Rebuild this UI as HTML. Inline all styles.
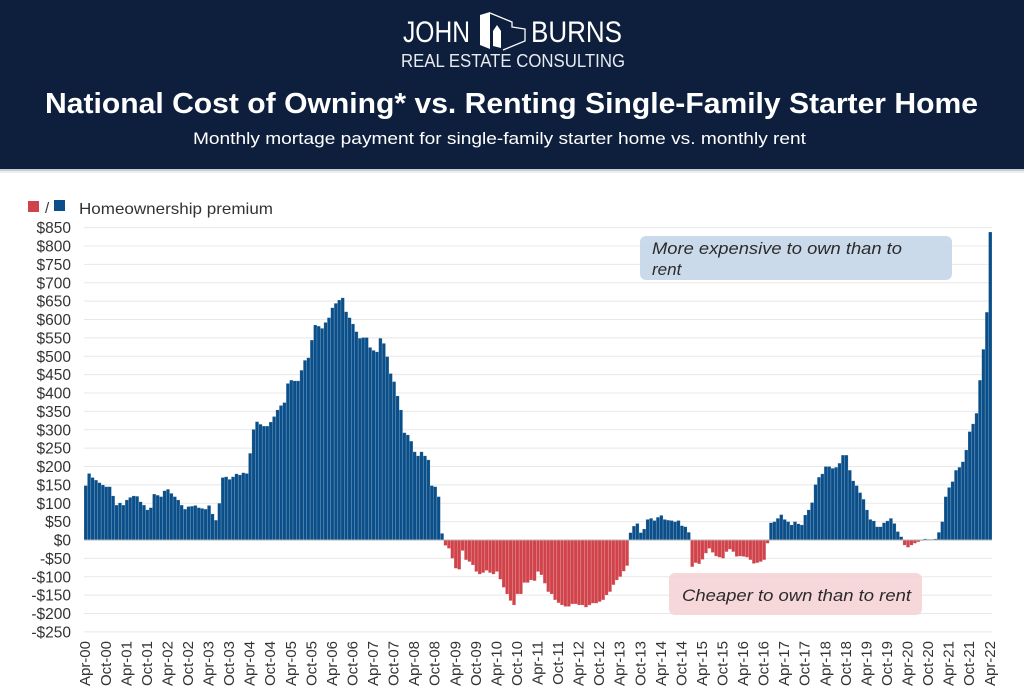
<!DOCTYPE html>
<html>
<head>
<meta charset="utf-8">
<style>
  html,body{margin:0;padding:0;background:#fff;}
  body{width:1024px;height:696px;overflow:hidden;}
  svg{display:block;font-family:"Liberation Sans",Arial,sans-serif;}
</style>
</head>
<body>
<svg width="1024" height="696" viewBox="0 0 1024 696" xmlns="http://www.w3.org/2000/svg">
  <!-- header -->
  <rect x="0" y="0" width="1024" height="169" fill="#0e1f3d"/>
  <rect x="0" y="169" width="1024" height="2" fill="#c9ccd2"/>
  <rect x="0" y="171" width="1024" height="2" fill="#eceef1"/>

  <!-- logo -->
  <text x="403" y="42" font-size="30" fill="#ffffff" textLength="67" lengthAdjust="spacingAndGlyphs">JOHN</text>
  <text x="531" y="42" font-size="30" fill="#ffffff" textLength="91" lengthAdjust="spacingAndGlyphs">BURNS</text>
  <polygon points="480,15 490,12 490,49 480,45" fill="#ffffff"/>
  <polyline points="490,13 512,22 512,27 525,29 525,41 503,50" fill="none" stroke="#ffffff" stroke-width="1.3"/>
  <polygon points="493,31 497,25 501,31 501,48 493,46" fill="#ffffff"/>
  <text x="401" y="67" font-size="18.5" fill="#e8ebf0" textLength="224" lengthAdjust="spacingAndGlyphs">REAL ESTATE CONSULTING</text>

  <!-- title -->
  <text x="45" y="113" font-size="29" font-weight="bold" fill="#ffffff" textLength="933" lengthAdjust="spacingAndGlyphs">National Cost of Owning* vs. Renting Single-Family Starter Home</text>
  <text x="193" y="144" font-size="17" fill="#ffffff" textLength="613" lengthAdjust="spacingAndGlyphs">Monthly mortage payment for single-family starter home vs. monthly rent</text>

  <!-- legend -->
  <rect x="28" y="201" width="11" height="11" fill="#d1434b"/>
  <text x="45" y="213" font-size="15" fill="#333">/</text>
  <rect x="54" y="200" width="11" height="11" fill="#0b4f8a"/>
  <text x="79" y="214" font-size="16" fill="#333" textLength="194" lengthAdjust="spacingAndGlyphs">Homeownership premium</text>

  <!-- gridlines -->
  <g stroke="#e8e8e8" stroke-width="1">
    <line x1="84" x2="992" y1="227.6" y2="227.6"/>
    <line x1="84" x2="992" y1="246.0" y2="246.0"/>
    <line x1="84" x2="992" y1="264.4" y2="264.4"/>
    <line x1="84" x2="992" y1="282.75" y2="282.75"/>
    <line x1="84" x2="992" y1="301.1" y2="301.1"/>
    <line x1="84" x2="992" y1="319.5" y2="319.5"/>
    <line x1="84" x2="992" y1="337.9" y2="337.9"/>
    <line x1="84" x2="992" y1="356.25" y2="356.25"/>
    <line x1="84" x2="992" y1="374.6" y2="374.6"/>
    <line x1="84" x2="992" y1="393.0" y2="393.0"/>
    <line x1="84" x2="992" y1="411.4" y2="411.4"/>
    <line x1="84" x2="992" y1="429.75" y2="429.75"/>
    <line x1="84" x2="992" y1="448.1" y2="448.1"/>
    <line x1="84" x2="992" y1="466.5" y2="466.5"/>
    <line x1="84" x2="992" y1="484.9" y2="484.9"/>
    <line x1="84" x2="992" y1="503.25" y2="503.25"/>
    <line x1="84" x2="992" y1="521.6" y2="521.6"/>
    <line x1="84" x2="992" y1="558.4" y2="558.4"/>
    <line x1="84" x2="992" y1="576.75" y2="576.75"/>
    <line x1="84" x2="992" y1="595.1" y2="595.1"/>
    <line x1="84" x2="992" y1="613.5" y2="613.5"/>
    <line x1="84" x2="992" y1="631.9" y2="631.9"/>
  </g>

  <!-- y labels -->
  <g font-size="15.5" fill="#333" text-anchor="end">
    <text x="71" y="233.1">$850</text>
    <text x="71" y="251.5">$800</text>
    <text x="71" y="269.9">$750</text>
    <text x="71" y="288.25">$700</text>
    <text x="71" y="306.6">$650</text>
    <text x="71" y="325.0">$600</text>
    <text x="71" y="343.4">$550</text>
    <text x="71" y="361.75">$500</text>
    <text x="71" y="380.1">$450</text>
    <text x="71" y="398.5">$400</text>
    <text x="71" y="416.9">$350</text>
    <text x="71" y="435.25">$300</text>
    <text x="71" y="453.6">$250</text>
    <text x="71" y="472.0">$200</text>
    <text x="71" y="490.4">$150</text>
    <text x="71" y="508.75">$100</text>
    <text x="71" y="527.1">$50</text>
    <text x="71" y="545.5">$0</text>
    <text x="71" y="563.9">-$50</text>
    <text x="71" y="582.25">-$100</text>
    <text x="71" y="600.6">-$150</text>
    <text x="71" y="619.0">-$200</text>
    <text x="71" y="637.4">-$250</text>
  </g>

  <!-- annotation boxes -->
  <rect x="640" y="236" width="312" height="44" rx="6" fill="#c5d6e8" fill-opacity="0.9"/>
  <text x="652" y="254" font-size="17" font-style="italic" fill="#2b2b2b" textLength="250" lengthAdjust="spacingAndGlyphs">More expensive to own than to</text>
  <text x="652" y="275" font-size="17" font-style="italic" fill="#2b2b2b">rent</text>

  <rect x="669" y="573" width="253" height="42" rx="6" fill="#f5d3d6" fill-opacity="0.9"/>
  <text x="682" y="601" font-size="17" font-style="italic" fill="#2b2b2b" textLength="229" lengthAdjust="spacingAndGlyphs">Cheaper to own than to rent</text>

  <!-- bars -->
  <g transform="translate(84,540) scale(3.4264,-0.3675)">
    <g fill="#0b4f8a" stroke="#ffffff" stroke-opacity="0.3" stroke-width="0.5" vector-effect="non-scaling-stroke">
      <rect x="0" width="1" height="148" vector-effect="non-scaling-stroke"/>
      <rect x="1" width="1" height="181" vector-effect="non-scaling-stroke"/>
      <rect x="2" width="1" height="170" vector-effect="non-scaling-stroke"/>
      <rect x="3" width="1" height="163" vector-effect="non-scaling-stroke"/>
      <rect x="4" width="1" height="156" vector-effect="non-scaling-stroke"/>
      <rect x="5" width="1" height="150" vector-effect="non-scaling-stroke"/>
      <rect x="6" width="1" height="145" vector-effect="non-scaling-stroke"/>
      <rect x="7" width="1" height="145" vector-effect="non-scaling-stroke"/>
      <rect x="8" width="1" height="120" vector-effect="non-scaling-stroke"/>
      <rect x="9" width="1" height="95" vector-effect="non-scaling-stroke"/>
      <rect x="10" width="1" height="101" vector-effect="non-scaling-stroke"/>
      <rect x="11" width="1" height="95" vector-effect="non-scaling-stroke"/>
      <rect x="12" width="1" height="109" vector-effect="non-scaling-stroke"/>
      <rect x="13" width="1" height="116" vector-effect="non-scaling-stroke"/>
      <rect x="14" width="1" height="120" vector-effect="non-scaling-stroke"/>
      <rect x="15" width="1" height="119" vector-effect="non-scaling-stroke"/>
      <rect x="16" width="1" height="104" vector-effect="non-scaling-stroke"/>
      <rect x="17" width="1" height="95" vector-effect="non-scaling-stroke"/>
      <rect x="18" width="1" height="82" vector-effect="non-scaling-stroke"/>
      <rect x="19" width="1" height="88" vector-effect="non-scaling-stroke"/>
      <rect x="20" width="1" height="125" vector-effect="non-scaling-stroke"/>
      <rect x="21" width="1" height="122" vector-effect="non-scaling-stroke"/>
      <rect x="22" width="1" height="118" vector-effect="non-scaling-stroke"/>
      <rect x="23" width="1" height="134" vector-effect="non-scaling-stroke"/>
      <rect x="24" width="1" height="138" vector-effect="non-scaling-stroke"/>
      <rect x="25" width="1" height="127" vector-effect="non-scaling-stroke"/>
      <rect x="26" width="1" height="118" vector-effect="non-scaling-stroke"/>
      <rect x="27" width="1" height="109" vector-effect="non-scaling-stroke"/>
      <rect x="28" width="1" height="95" vector-effect="non-scaling-stroke"/>
      <rect x="29" width="1" height="84" vector-effect="non-scaling-stroke"/>
      <rect x="30" width="1" height="91" vector-effect="non-scaling-stroke"/>
      <rect x="31" width="1" height="92" vector-effect="non-scaling-stroke"/>
      <rect x="32" width="1" height="94" vector-effect="non-scaling-stroke"/>
      <rect x="33" width="1" height="88" vector-effect="non-scaling-stroke"/>
      <rect x="34" width="1" height="86" vector-effect="non-scaling-stroke"/>
      <rect x="35" width="1" height="84" vector-effect="non-scaling-stroke"/>
      <rect x="36" width="1" height="94" vector-effect="non-scaling-stroke"/>
      <rect x="37" width="1" height="71" vector-effect="non-scaling-stroke"/>
      <rect x="38" width="1" height="54" vector-effect="non-scaling-stroke"/>
      <rect x="39" width="1" height="100" vector-effect="non-scaling-stroke"/>
      <rect x="40" width="1" height="170" vector-effect="non-scaling-stroke"/>
      <rect x="41" width="1" height="172" vector-effect="non-scaling-stroke"/>
      <rect x="42" width="1" height="165" vector-effect="non-scaling-stroke"/>
      <rect x="43" width="1" height="172" vector-effect="non-scaling-stroke"/>
      <rect x="44" width="1" height="180" vector-effect="non-scaling-stroke"/>
      <rect x="45" width="1" height="177" vector-effect="non-scaling-stroke"/>
      <rect x="46" width="1" height="183" vector-effect="non-scaling-stroke"/>
      <rect x="47" width="1" height="181" vector-effect="non-scaling-stroke"/>
      <rect x="48" width="1" height="236" vector-effect="non-scaling-stroke"/>
      <rect x="49" width="1" height="301" vector-effect="non-scaling-stroke"/>
      <rect x="50" width="1" height="322" vector-effect="non-scaling-stroke"/>
      <rect x="51" width="1" height="315" vector-effect="non-scaling-stroke"/>
      <rect x="52" width="1" height="310" vector-effect="non-scaling-stroke"/>
      <rect x="53" width="1" height="310" vector-effect="non-scaling-stroke"/>
      <rect x="54" width="1" height="321" vector-effect="non-scaling-stroke"/>
      <rect x="55" width="1" height="336" vector-effect="non-scaling-stroke"/>
      <rect x="56" width="1" height="354" vector-effect="non-scaling-stroke"/>
      <rect x="57" width="1" height="366" vector-effect="non-scaling-stroke"/>
      <rect x="58" width="1" height="374" vector-effect="non-scaling-stroke"/>
      <rect x="59" width="1" height="426" vector-effect="non-scaling-stroke"/>
      <rect x="60" width="1" height="435" vector-effect="non-scaling-stroke"/>
      <rect x="61" width="1" height="433" vector-effect="non-scaling-stroke"/>
      <rect x="62" width="1" height="433" vector-effect="non-scaling-stroke"/>
      <rect x="63" width="1" height="462" vector-effect="non-scaling-stroke"/>
      <rect x="64" width="1" height="489" vector-effect="non-scaling-stroke"/>
      <rect x="65" width="1" height="496" vector-effect="non-scaling-stroke"/>
      <rect x="66" width="1" height="544" vector-effect="non-scaling-stroke"/>
      <rect x="67" width="1" height="585" vector-effect="non-scaling-stroke"/>
      <rect x="68" width="1" height="582" vector-effect="non-scaling-stroke"/>
      <rect x="69" width="1" height="576" vector-effect="non-scaling-stroke"/>
      <rect x="70" width="1" height="592" vector-effect="non-scaling-stroke"/>
      <rect x="71" width="1" height="605" vector-effect="non-scaling-stroke"/>
      <rect x="72" width="1" height="632" vector-effect="non-scaling-stroke"/>
      <rect x="73" width="1" height="644" vector-effect="non-scaling-stroke"/>
      <rect x="74" width="1" height="653" vector-effect="non-scaling-stroke"/>
      <rect x="75" width="1" height="659" vector-effect="non-scaling-stroke"/>
      <rect x="76" width="1" height="621" vector-effect="non-scaling-stroke"/>
      <rect x="77" width="1" height="605" vector-effect="non-scaling-stroke"/>
      <rect x="78" width="1" height="588" vector-effect="non-scaling-stroke"/>
      <rect x="79" width="1" height="567" vector-effect="non-scaling-stroke"/>
      <rect x="80" width="1" height="549" vector-effect="non-scaling-stroke"/>
      <rect x="81" width="1" height="551" vector-effect="non-scaling-stroke"/>
      <rect x="82" width="1" height="551" vector-effect="non-scaling-stroke"/>
      <rect x="83" width="1" height="524" vector-effect="non-scaling-stroke"/>
      <rect x="84" width="1" height="516" vector-effect="non-scaling-stroke"/>
      <rect x="85" width="1" height="512" vector-effect="non-scaling-stroke"/>
      <rect x="86" width="1" height="549" vector-effect="non-scaling-stroke"/>
      <rect x="87" width="1" height="535" vector-effect="non-scaling-stroke"/>
      <rect x="88" width="1" height="499" vector-effect="non-scaling-stroke"/>
      <rect x="89" width="1" height="453" vector-effect="non-scaling-stroke"/>
      <rect x="90" width="1" height="431" vector-effect="non-scaling-stroke"/>
      <rect x="91" width="1" height="392" vector-effect="non-scaling-stroke"/>
      <rect x="92" width="1" height="354" vector-effect="non-scaling-stroke"/>
      <rect x="93" width="1" height="292" vector-effect="non-scaling-stroke"/>
      <rect x="94" width="1" height="286" vector-effect="non-scaling-stroke"/>
      <rect x="95" width="1" height="269" vector-effect="non-scaling-stroke"/>
      <rect x="96" width="1" height="240" vector-effect="non-scaling-stroke"/>
      <rect x="97" width="1" height="229" vector-effect="non-scaling-stroke"/>
      <rect x="98" width="1" height="240" vector-effect="non-scaling-stroke"/>
      <rect x="99" width="1" height="229" vector-effect="non-scaling-stroke"/>
      <rect x="100" width="1" height="218" vector-effect="non-scaling-stroke"/>
      <rect x="101" width="1" height="148" vector-effect="non-scaling-stroke"/>
      <rect x="102" width="1" height="145" vector-effect="non-scaling-stroke"/>
      <rect x="103" width="1" height="118" vector-effect="non-scaling-stroke"/>
      <rect x="104" width="1" height="18" vector-effect="non-scaling-stroke"/>
      <rect x="159" width="1" height="20" vector-effect="non-scaling-stroke"/>
      <rect x="160" width="1" height="38" vector-effect="non-scaling-stroke"/>
      <rect x="161" width="1" height="45" vector-effect="non-scaling-stroke"/>
      <rect x="162" width="1" height="20" vector-effect="non-scaling-stroke"/>
      <rect x="163" width="1" height="30" vector-effect="non-scaling-stroke"/>
      <rect x="164" width="1" height="56" vector-effect="non-scaling-stroke"/>
      <rect x="165" width="1" height="59" vector-effect="non-scaling-stroke"/>
      <rect x="166" width="1" height="53" vector-effect="non-scaling-stroke"/>
      <rect x="167" width="1" height="62" vector-effect="non-scaling-stroke"/>
      <rect x="168" width="1" height="67" vector-effect="non-scaling-stroke"/>
      <rect x="169" width="1" height="56" vector-effect="non-scaling-stroke"/>
      <rect x="170" width="1" height="54" vector-effect="non-scaling-stroke"/>
      <rect x="171" width="1" height="53" vector-effect="non-scaling-stroke"/>
      <rect x="172" width="1" height="50" vector-effect="non-scaling-stroke"/>
      <rect x="173" width="1" height="53" vector-effect="non-scaling-stroke"/>
      <rect x="174" width="1" height="39" vector-effect="non-scaling-stroke"/>
      <rect x="175" width="1" height="36" vector-effect="non-scaling-stroke"/>
      <rect x="176" width="1" height="21" vector-effect="non-scaling-stroke"/>
      <rect x="200" width="1" height="47" vector-effect="non-scaling-stroke"/>
      <rect x="201" width="1" height="50" vector-effect="non-scaling-stroke"/>
      <rect x="202" width="1" height="59" vector-effect="non-scaling-stroke"/>
      <rect x="203" width="1" height="69" vector-effect="non-scaling-stroke"/>
      <rect x="204" width="1" height="56" vector-effect="non-scaling-stroke"/>
      <rect x="205" width="1" height="50" vector-effect="non-scaling-stroke"/>
      <rect x="206" width="1" height="41" vector-effect="non-scaling-stroke"/>
      <rect x="207" width="1" height="50" vector-effect="non-scaling-stroke"/>
      <rect x="208" width="1" height="44" vector-effect="non-scaling-stroke"/>
      <rect x="209" width="1" height="41" vector-effect="non-scaling-stroke"/>
      <rect x="210" width="1" height="68" vector-effect="non-scaling-stroke"/>
      <rect x="211" width="1" height="82" vector-effect="non-scaling-stroke"/>
      <rect x="212" width="1" height="102" vector-effect="non-scaling-stroke"/>
      <rect x="213" width="1" height="151" vector-effect="non-scaling-stroke"/>
      <rect x="214" width="1" height="171" vector-effect="non-scaling-stroke"/>
      <rect x="215" width="1" height="180" vector-effect="non-scaling-stroke"/>
      <rect x="216" width="1" height="200" vector-effect="non-scaling-stroke"/>
      <rect x="217" width="1" height="200" vector-effect="non-scaling-stroke"/>
      <rect x="218" width="1" height="195" vector-effect="non-scaling-stroke"/>
      <rect x="219" width="1" height="198" vector-effect="non-scaling-stroke"/>
      <rect x="220" width="1" height="209" vector-effect="non-scaling-stroke"/>
      <rect x="221" width="1" height="231" vector-effect="non-scaling-stroke"/>
      <rect x="222" width="1" height="231" vector-effect="non-scaling-stroke"/>
      <rect x="223" width="1" height="190" vector-effect="non-scaling-stroke"/>
      <rect x="224" width="1" height="161" vector-effect="non-scaling-stroke"/>
      <rect x="225" width="1" height="148" vector-effect="non-scaling-stroke"/>
      <rect x="226" width="1" height="129" vector-effect="non-scaling-stroke"/>
      <rect x="227" width="1" height="111" vector-effect="non-scaling-stroke"/>
      <rect x="228" width="1" height="82" vector-effect="non-scaling-stroke"/>
      <rect x="229" width="1" height="56" vector-effect="non-scaling-stroke"/>
      <rect x="230" width="1" height="52" vector-effect="non-scaling-stroke"/>
      <rect x="231" width="1" height="36" vector-effect="non-scaling-stroke"/>
      <rect x="232" width="1" height="36" vector-effect="non-scaling-stroke"/>
      <rect x="233" width="1" height="47" vector-effect="non-scaling-stroke"/>
      <rect x="234" width="1" height="52" vector-effect="non-scaling-stroke"/>
      <rect x="235" width="1" height="59" vector-effect="non-scaling-stroke"/>
      <rect x="236" width="1" height="45" vector-effect="non-scaling-stroke"/>
      <rect x="237" width="1" height="23" vector-effect="non-scaling-stroke"/>
      <rect x="238" width="1" height="9" vector-effect="non-scaling-stroke"/>
      <rect x="245" width="1" height="3" vector-effect="non-scaling-stroke"/>
      <rect x="246" width="1" height="2" vector-effect="non-scaling-stroke"/>
      <rect x="247" width="1" height="2" vector-effect="non-scaling-stroke"/>
      <rect x="248" width="1" height="3" vector-effect="non-scaling-stroke"/>
      <rect x="249" width="1" height="21" vector-effect="non-scaling-stroke"/>
      <rect x="250" width="1" height="50" vector-effect="non-scaling-stroke"/>
      <rect x="251" width="1" height="118" vector-effect="non-scaling-stroke"/>
      <rect x="252" width="1" height="143" vector-effect="non-scaling-stroke"/>
      <rect x="253" width="1" height="159" vector-effect="non-scaling-stroke"/>
      <rect x="254" width="1" height="190" vector-effect="non-scaling-stroke"/>
      <rect x="255" width="1" height="198" vector-effect="non-scaling-stroke"/>
      <rect x="256" width="1" height="213" vector-effect="non-scaling-stroke"/>
      <rect x="257" width="1" height="245" vector-effect="non-scaling-stroke"/>
      <rect x="258" width="1" height="295" vector-effect="non-scaling-stroke"/>
      <rect x="259" width="1" height="316" vector-effect="non-scaling-stroke"/>
      <rect x="260" width="1" height="345" vector-effect="non-scaling-stroke"/>
      <rect x="261" width="1" height="435" vector-effect="non-scaling-stroke"/>
      <rect x="262" width="1" height="519" vector-effect="non-scaling-stroke"/>
      <rect x="263" width="1" height="620" vector-effect="non-scaling-stroke"/>
      <rect x="264" width="1" height="838" vector-effect="non-scaling-stroke"/>
    </g>
    <g fill="#d1434b" stroke="#ffffff" stroke-opacity="0.3" stroke-width="0.5">
      <rect x="105" y="-15" width="1" height="15" vector-effect="non-scaling-stroke"/>
      <rect x="106" y="-23" width="1" height="23" vector-effect="non-scaling-stroke"/>
      <rect x="107" y="-50" width="1" height="50" vector-effect="non-scaling-stroke"/>
      <rect x="108" y="-77" width="1" height="77" vector-effect="non-scaling-stroke"/>
      <rect x="109" y="-80" width="1" height="80" vector-effect="non-scaling-stroke"/>
      <rect x="110" y="-29" width="1" height="29" vector-effect="non-scaling-stroke"/>
      <rect x="111" y="-54" width="1" height="54" vector-effect="non-scaling-stroke"/>
      <rect x="112" y="-59" width="1" height="59" vector-effect="non-scaling-stroke"/>
      <rect x="113" y="-68" width="1" height="68" vector-effect="non-scaling-stroke"/>
      <rect x="114" y="-86" width="1" height="86" vector-effect="non-scaling-stroke"/>
      <rect x="115" y="-93" width="1" height="93" vector-effect="non-scaling-stroke"/>
      <rect x="116" y="-89" width="1" height="89" vector-effect="non-scaling-stroke"/>
      <rect x="117" y="-83" width="1" height="83" vector-effect="non-scaling-stroke"/>
      <rect x="118" y="-89" width="1" height="89" vector-effect="non-scaling-stroke"/>
      <rect x="119" y="-93" width="1" height="93" vector-effect="non-scaling-stroke"/>
      <rect x="120" y="-86" width="1" height="86" vector-effect="non-scaling-stroke"/>
      <rect x="121" y="-107" width="1" height="107" vector-effect="non-scaling-stroke"/>
      <rect x="122" y="-129" width="1" height="129" vector-effect="non-scaling-stroke"/>
      <rect x="123" y="-147" width="1" height="147" vector-effect="non-scaling-stroke"/>
      <rect x="124" y="-165" width="1" height="165" vector-effect="non-scaling-stroke"/>
      <rect x="125" y="-177" width="1" height="177" vector-effect="non-scaling-stroke"/>
      <rect x="126" y="-147" width="1" height="147" vector-effect="non-scaling-stroke"/>
      <rect x="127" y="-147" width="1" height="147" vector-effect="non-scaling-stroke"/>
      <rect x="128" y="-116" width="1" height="116" vector-effect="non-scaling-stroke"/>
      <rect x="129" y="-116" width="1" height="116" vector-effect="non-scaling-stroke"/>
      <rect x="130" y="-109" width="1" height="109" vector-effect="non-scaling-stroke"/>
      <rect x="131" y="-111" width="1" height="111" vector-effect="non-scaling-stroke"/>
      <rect x="132" y="-86" width="1" height="86" vector-effect="non-scaling-stroke"/>
      <rect x="133" y="-95" width="1" height="95" vector-effect="non-scaling-stroke"/>
      <rect x="134" y="-118" width="1" height="118" vector-effect="non-scaling-stroke"/>
      <rect x="135" y="-141" width="1" height="141" vector-effect="non-scaling-stroke"/>
      <rect x="136" y="-147" width="1" height="147" vector-effect="non-scaling-stroke"/>
      <rect x="137" y="-163" width="1" height="163" vector-effect="non-scaling-stroke"/>
      <rect x="138" y="-171" width="1" height="171" vector-effect="non-scaling-stroke"/>
      <rect x="139" y="-177" width="1" height="177" vector-effect="non-scaling-stroke"/>
      <rect x="140" y="-181" width="1" height="181" vector-effect="non-scaling-stroke"/>
      <rect x="141" y="-181" width="1" height="181" vector-effect="non-scaling-stroke"/>
      <rect x="142" y="-174" width="1" height="174" vector-effect="non-scaling-stroke"/>
      <rect x="143" y="-174" width="1" height="174" vector-effect="non-scaling-stroke"/>
      <rect x="144" y="-177" width="1" height="177" vector-effect="non-scaling-stroke"/>
      <rect x="145" y="-177" width="1" height="177" vector-effect="non-scaling-stroke"/>
      <rect x="146" y="-183" width="1" height="183" vector-effect="non-scaling-stroke"/>
      <rect x="147" y="-177" width="1" height="177" vector-effect="non-scaling-stroke"/>
      <rect x="148" y="-172" width="1" height="172" vector-effect="non-scaling-stroke"/>
      <rect x="149" y="-172" width="1" height="172" vector-effect="non-scaling-stroke"/>
      <rect x="150" y="-168" width="1" height="168" vector-effect="non-scaling-stroke"/>
      <rect x="151" y="-163" width="1" height="163" vector-effect="non-scaling-stroke"/>
      <rect x="152" y="-150" width="1" height="150" vector-effect="non-scaling-stroke"/>
      <rect x="153" y="-141" width="1" height="141" vector-effect="non-scaling-stroke"/>
      <rect x="154" y="-122" width="1" height="122" vector-effect="non-scaling-stroke"/>
      <rect x="155" y="-109" width="1" height="109" vector-effect="non-scaling-stroke"/>
      <rect x="156" y="-100" width="1" height="100" vector-effect="non-scaling-stroke"/>
      <rect x="157" y="-85" width="1" height="85" vector-effect="non-scaling-stroke"/>
      <rect x="158" y="-70" width="1" height="70" vector-effect="non-scaling-stroke"/>
      <rect x="177" y="-73" width="1" height="73" vector-effect="non-scaling-stroke"/>
      <rect x="178" y="-62" width="1" height="62" vector-effect="non-scaling-stroke"/>
      <rect x="179" y="-65" width="1" height="65" vector-effect="non-scaling-stroke"/>
      <rect x="180" y="-53" width="1" height="53" vector-effect="non-scaling-stroke"/>
      <rect x="181" y="-36" width="1" height="36" vector-effect="non-scaling-stroke"/>
      <rect x="182" y="-23" width="1" height="23" vector-effect="non-scaling-stroke"/>
      <rect x="183" y="-34" width="1" height="34" vector-effect="non-scaling-stroke"/>
      <rect x="184" y="-44" width="1" height="44" vector-effect="non-scaling-stroke"/>
      <rect x="185" y="-47" width="1" height="47" vector-effect="non-scaling-stroke"/>
      <rect x="186" y="-50" width="1" height="50" vector-effect="non-scaling-stroke"/>
      <rect x="187" y="-32" width="1" height="32" vector-effect="non-scaling-stroke"/>
      <rect x="188" y="-25" width="1" height="25" vector-effect="non-scaling-stroke"/>
      <rect x="189" y="-32" width="1" height="32" vector-effect="non-scaling-stroke"/>
      <rect x="190" y="-45" width="1" height="45" vector-effect="non-scaling-stroke"/>
      <rect x="191" y="-44" width="1" height="44" vector-effect="non-scaling-stroke"/>
      <rect x="192" y="-45" width="1" height="45" vector-effect="non-scaling-stroke"/>
      <rect x="193" y="-47" width="1" height="47" vector-effect="non-scaling-stroke"/>
      <rect x="194" y="-54" width="1" height="54" vector-effect="non-scaling-stroke"/>
      <rect x="195" y="-64" width="1" height="64" vector-effect="non-scaling-stroke"/>
      <rect x="196" y="-62" width="1" height="62" vector-effect="non-scaling-stroke"/>
      <rect x="197" y="-59" width="1" height="59" vector-effect="non-scaling-stroke"/>
      <rect x="198" y="-54" width="1" height="54" vector-effect="non-scaling-stroke"/>
      <rect x="199" y="-9" width="1" height="9" vector-effect="non-scaling-stroke"/>
      <rect x="239" y="-14" width="1" height="14" vector-effect="non-scaling-stroke"/>
      <rect x="240" y="-20" width="1" height="20" vector-effect="non-scaling-stroke"/>
      <rect x="241" y="-14" width="1" height="14" vector-effect="non-scaling-stroke"/>
      <rect x="242" y="-9" width="1" height="9" vector-effect="non-scaling-stroke"/>
      <rect x="243" y="-5" width="1" height="5" vector-effect="non-scaling-stroke"/>
      <rect x="244" y="-2" width="1" height="2" vector-effect="non-scaling-stroke"/>
    </g>
  </g>

  <!-- zero axis -->
  <line x1="84" x2="992" y1="540" y2="540" stroke="#b5b5b5" stroke-width="1"/>

  <!-- x labels -->
  <g font-size="15" fill="#333" text-anchor="end">
    <text transform="translate(90.2,641) rotate(-90)">Apr-00</text>
    <text transform="translate(110.8,641) rotate(-90)">Oct-00</text>
    <text transform="translate(131.3,641) rotate(-90)">Apr-01</text>
    <text transform="translate(151.9,641) rotate(-90)">Oct-01</text>
    <text transform="translate(172.4,641) rotate(-90)">Apr-02</text>
    <text transform="translate(193.0,641) rotate(-90)">Oct-02</text>
    <text transform="translate(213.6,641) rotate(-90)">Apr-03</text>
    <text transform="translate(234.1,641) rotate(-90)">Oct-03</text>
    <text transform="translate(254.7,641) rotate(-90)">Apr-04</text>
    <text transform="translate(275.2,641) rotate(-90)">Oct-04</text>
    <text transform="translate(295.8,641) rotate(-90)">Apr-05</text>
    <text transform="translate(316.4,641) rotate(-90)">Oct-05</text>
    <text transform="translate(336.9,641) rotate(-90)">Apr-06</text>
    <text transform="translate(357.5,641) rotate(-90)">Oct-06</text>
    <text transform="translate(378.0,641) rotate(-90)">Apr-07</text>
    <text transform="translate(398.6,641) rotate(-90)">Oct-07</text>
    <text transform="translate(419.1,641) rotate(-90)">Apr-08</text>
    <text transform="translate(439.7,641) rotate(-90)">Oct-08</text>
    <text transform="translate(460.3,641) rotate(-90)">Apr-09</text>
    <text transform="translate(480.8,641) rotate(-90)">Oct-09</text>
    <text transform="translate(501.4,641) rotate(-90)">Apr-10</text>
    <text transform="translate(521.9,641) rotate(-90)">Oct-10</text>
    <text transform="translate(542.5,641) rotate(-90)">Apr-11</text>
    <text transform="translate(563.0,641) rotate(-90)">Oct-11</text>
    <text transform="translate(583.6,641) rotate(-90)">Apr-12</text>
    <text transform="translate(604.2,641) rotate(-90)">Oct-12</text>
    <text transform="translate(624.7,641) rotate(-90)">Apr-13</text>
    <text transform="translate(645.3,641) rotate(-90)">Oct-13</text>
    <text transform="translate(665.8,641) rotate(-90)">Apr-14</text>
    <text transform="translate(686.4,641) rotate(-90)">Oct-14</text>
    <text transform="translate(706.9,641) rotate(-90)">Apr-15</text>
    <text transform="translate(727.5,641) rotate(-90)">Oct-15</text>
    <text transform="translate(748.1,641) rotate(-90)">Apr-16</text>
    <text transform="translate(768.6,641) rotate(-90)">Oct-16</text>
    <text transform="translate(789.2,641) rotate(-90)">Apr-17</text>
    <text transform="translate(809.7,641) rotate(-90)">Oct-17</text>
    <text transform="translate(830.3,641) rotate(-90)">Apr-18</text>
    <text transform="translate(850.9,641) rotate(-90)">Oct-18</text>
    <text transform="translate(871.4,641) rotate(-90)">Apr-19</text>
    <text transform="translate(892.0,641) rotate(-90)">Oct-19</text>
    <text transform="translate(912.5,641) rotate(-90)">Apr-20</text>
    <text transform="translate(933.1,641) rotate(-90)">Oct-20</text>
    <text transform="translate(953.6,641) rotate(-90)">Apr-21</text>
    <text transform="translate(974.2,641) rotate(-90)">Oct-21</text>
    <text transform="translate(994.8,641) rotate(-90)">Apr-22</text>
  </g>
</svg>
</body>
</html>
